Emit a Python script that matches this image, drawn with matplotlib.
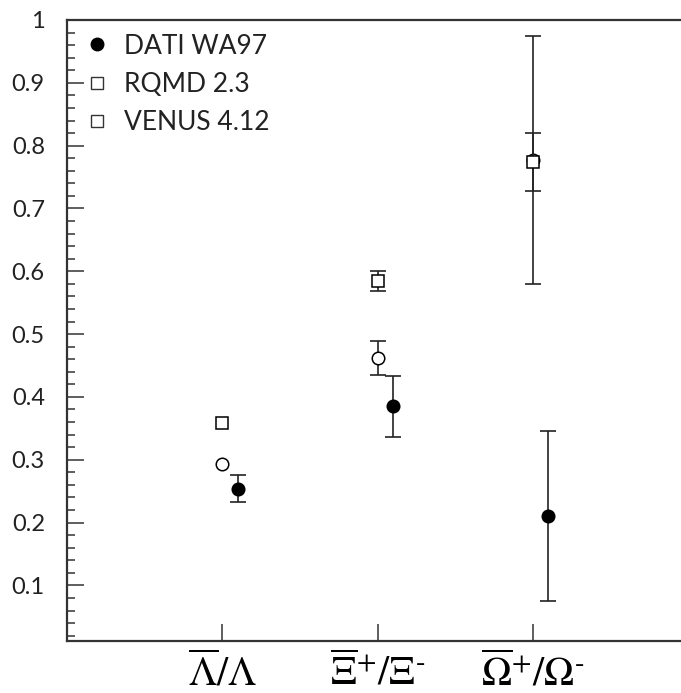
import matplotlib
matplotlib.use("Agg")
import matplotlib.pyplot as plt
from matplotlib.ticker import MultipleLocator
from matplotlib.lines import Line2D

plt.rcParams['mathtext.fontset'] = 'stix'

categories = [r'$\overline{\Lambda}/\Lambda$',
              r'$\overline{\Xi}^{+}/\Xi^{\text{-}}$',
              r'$\overline{\Omega}^{+}/\Omega^{\text{-}}$']
positions = [1, 2, 3]

dati_val = [0.254, 0.385, 0.210]
dati_err = [0.022, 0.048, 0.135]

rqmd_val = [0.358, 0.584, 0.774]
rqmd_err = [0.0, 0.016, 0.046]

venus_val = [0.294, 0.462, 0.777]
venus_err = [0.0, 0.027, 0.197]

legend_labels = ['DATI WA97', 'RQMD 2.3', 'VENUS 4.12']

fig = plt.figure(figsize=(6.81, 6.93), dpi=100)
ax = fig.add_axes([67/681, 52/693, 1 - 67/681, (641-20)/693])

ekw = dict(fmt='none', ecolor='#222222', elinewidth=1.2, capsize=6, capthick=1.2)


def draw_series(xs, vals, errs, marker, ms, face, z):
    ex = [x for x, e in zip(xs, errs) if e > 0]
    ev = [v for v, e in zip(vals, errs) if e > 0]
    ee = [e for e in errs if e > 0]
    if ex:
        ax.errorbar(ex, ev, yerr=ee, zorder=z, **ekw)
    ax.plot(xs, vals, ls='none', marker=marker, ms=ms, mfc=face, mec='black',
            mew=1.1, zorder=z + 0.5)


draw_series(positions, venus_val, venus_err, 'o', 9, 'white', 3)
draw_series(positions, rqmd_val, rqmd_err, 's', 8.5, 'white', 4)
draw_series([p + 0.1 for p in positions], dati_val, dati_err, 'o', 9, 'black', 5)

ax.set_xlim(0, (681-67)/155.3)
ax.set_ylim(0.0115, 1.0)
ax.set_xticks(positions)
ax.set_xticklabels(categories, fontsize=29)
ax.yaxis.set_minor_locator(MultipleLocator(0.02))
ax.set_yticks([0.1*i for i in range(1, 11)])
ax.set_yticklabels(['0.1', '0.2', '0.3', '0.4', '0.5', '0.6', '0.7', '0.8', '0.9', '1'],
                   fontsize=17, color='#222222')
for lab in ax.get_yticklabels():
    lab.set_family(['Lato', 'DejaVu Sans'])

ax.tick_params(axis='y', which='major', direction='in', length=12, width=1.1, pad=16, colors='#333333',
               labelcolor='#222222')
ax.tick_params(axis='y', which='minor', direction='in', length=6, width=1.1, colors='#333333')
ax.tick_params(axis='x', which='major', direction='in', length=12, width=1.1, pad=8, colors='#333333',
               labelcolor='black')
ax.spines['right'].set_visible(False)
for s in ['left', 'bottom', 'top']:
    ax.spines[s].set_linewidth(1.6)
    ax.spines[s].set_color('#333333')

handles = [
    Line2D([], [], marker='o', ls='none', ms=9, mfc='black', mec='black'),
    Line2D([], [], marker='s', ls='none', ms=8, mfc='white', mec='#333333', mew=1.0),
    Line2D([], [], marker='s', ls='none', ms=8, mfc='white', mec='#333333', mew=1.0),
]
leg = ax.legend(handles, legend_labels, loc='upper left', bbox_to_anchor=(0.031, 0.978),
                frameon=False, handlelength=0.8, handletextpad=0.62, labelspacing=0.5,
                borderpad=0, borderaxespad=0,
                prop={'family': ['Lato', 'DejaVu Sans'], 'size': 19})
for t in leg.get_texts():
    t.set_color('#222222')

fig.savefig('out.png', dpi=100)
